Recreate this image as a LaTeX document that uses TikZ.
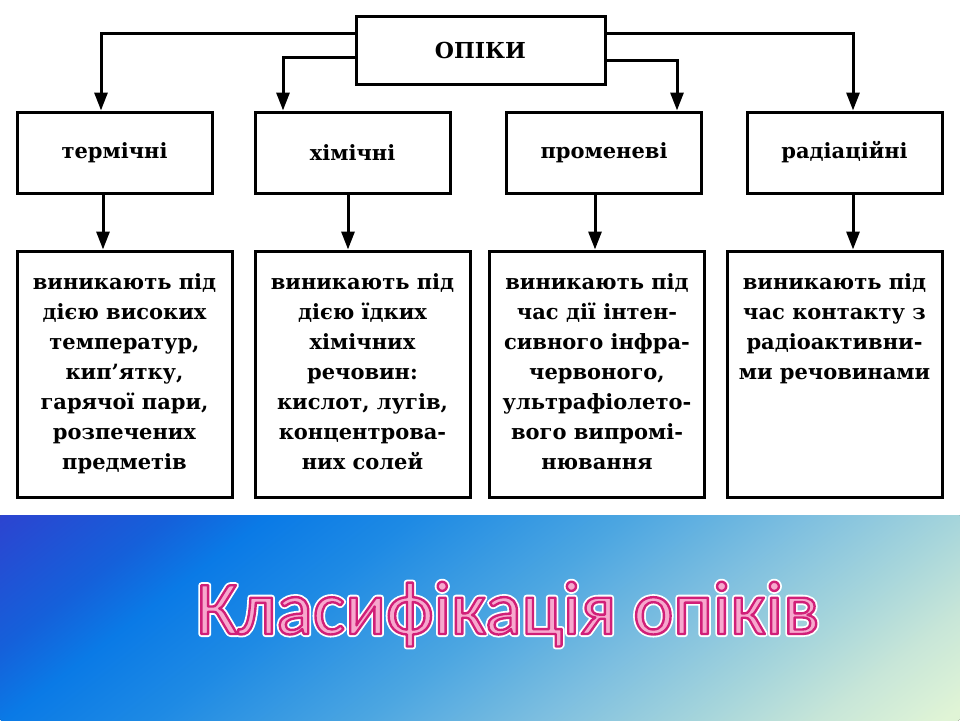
\documentclass[tikz,border=0pt]{standalone}
\usepackage{fontspec}
\setmainfont{DejaVu Serif}
\newfontfamily\titlefont{Carlito}
\usepackage{xcolor}
\usetikzlibrary{arrows.meta, positioning}
\definecolor{titlefill}{RGB}{247,168,205}
\definecolor{bandA}{HTML}{2C44D0}
\definecolor{bandB}{HTML}{1560DA}
\definecolor{bandC}{HTML}{0A7AE6}
\definecolor{bandD}{HTML}{1E8AE4}
\definecolor{bandE}{HTML}{4CA6E1}
\definecolor{bandF}{HTML}{7CBEE0}
\definecolor{bandG}{HTML}{A6D5DB}
\definecolor{bandH}{HTML}{C8E6D8}
\definecolor{bandI}{HTML}{E0F4D6}
\pgfdeclarehorizontalshading{banner}{100bp}{color(0bp)=(bandA); color(25bp)=(bandA);
  color(32bp)=(bandB); color(36bp)=(bandC); color(42bp)=(bandD); color(50.7bp)=(bandE);
  color(57.7bp)=(bandF); color(64.4bp)=(bandG); color(69.4bp)=(bandH); color(74.4bp)=(bandI);
  color(100bp)=(bandI)}
\newcommand\strokeon[2]{\special{pdf:literal direct 2 Tr 1 j #1 w #2 RG}}
\newcommand\strokeoff{\special{pdf:literal direct 0 Tr 0 j}}

\begin{document}
\begin{tikzpicture}[x=1pt, y=-1pt,
    box/.style={draw, line width=3pt, inner sep=0pt},
    kindbox/.style={box, minimum width=195pt, minimum height=81pt, font=\bfseries\fontsize{21}{24}\selectfont},
    descbox/.style={box, minimum width=215pt, minimum height=246pt},
    desctext/.style={align=center, inner sep=0pt, font=\bfseries\fontsize{21}{30}\selectfont},
    arr/.style={-{Triangle[length=18pt, width=13pt]}, line width=3pt}]
    \useasboundingbox (0,0) rectangle (960,720);

    % смуга внизу
    \begin{scope}
        \clip (0,515) rectangle (960,720);
        \fill[shading=banner, transform canvas={rotate around={-52.3:(480,617.5)}}] (106,175.5) rectangle (854,1059.5);
    \end{scope}

    % опіки
    \node[box, minimum width=249pt, minimum height=68pt, font=\bfseries\fontsize{22}{24}\selectfont] (root) at (480.5,50) {ОПІКИ};

    % види
    \node[kindbox] (t1) at (114.5,152.5) {термічні};
    \node[kindbox] (t2) at (352.5,152.5) {хімічні};
    \node[kindbox] (t3) at (604,152.5) {променеві};
    \node[kindbox] (t4) at (844.5,152.5) {радіаційні};
    \draw[arr] ([yshift=17pt]root.west) -| ([xshift=-13.5pt]t1.north);
    \draw[arr] ([yshift=-7pt]root.west) -| ([xshift=-69.5pt]t2.north);
    \draw[arr] ([yshift=-10pt]root.east) -| ([xshift=73pt]t3.north);
    \draw[arr] ([yshift=17pt]root.east) -| ([xshift=8.5pt]t4.north);

    % причини
    \node[descbox] (d1) at (124.5,374) {};
    \node[descbox] (d2) at (362.5,374) {};
    \node[descbox] (d3) at (597,374) {};
    \node[descbox] (d4) at (834.5,374) {};
    \node[desctext, below=24pt of d1.north] (d1txt) {виникають під\\дією високих\\температур,\\кип’ятку,\\гарячої пари,\\розпечених\\предметів};
    \node[desctext, below=24pt of d2.north] (d2txt) {виникають під\\дією їдких\\хімічних\\речовин:\\кислот, лугів,\\концентрова-\\них солей};
    \node[desctext, below=24pt of d3.north] (d3txt) {виникають під\\час дії інтен-\\сивного інфра-\\червоного,\\ультрафіолето-\\вого випромі-\\нювання};
    \node[desctext, below=24pt of d4.north] (d4txt) {виникають під\\час контакту з\\радіоактивни-\\ми речовинами};
    \draw[arr] ([xshift=-11.5pt]t1.south) -- ([xshift=-11.5pt]t1.south |- d1.north);
    \draw[arr] ([xshift=-4.5pt]t2.south) -- ([xshift=-4.5pt]t2.south |- d2.north);
    \draw[arr] ([xshift=-9pt]t3.south) -- ([xshift=-9pt]t3.south |- d3.north);
    \draw[arr] ([xshift=8.5pt]t4.south) -- ([xshift=8.5pt]t4.south |- d4.north);

    % назва
    \node[anchor=base, inner sep=0pt, font=\titlefont\fontsize{76}{76}\selectfont] (title) at (508,634)
        {\rlap{\color{white}\strokeon{6}{1 1 1}Класифікація опіків}\color{titlefill}\strokeon{2.4}{0.82 0.12 0.47}Класифікація опіків\strokeoff};
\end{tikzpicture}
\end{document}
